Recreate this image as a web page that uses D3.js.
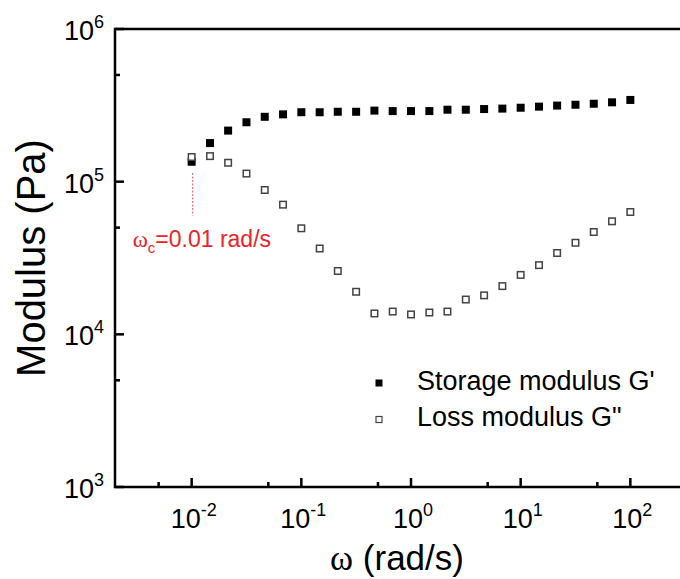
<!DOCTYPE html>
<html>
<head>
<meta charset="utf-8">
<script src="https://cdn.jsdelivr.net/npm/d3@7"></script>
<style>
    body { margin: 0; background: #fff; }
    svg { display: block; font-family: "Liberation Sans", Arial, sans-serif; }
    .axis_line { stroke: #000; stroke-width: 2.5; fill: none; }
    .tick { stroke: #000; stroke-width: 2.5; }
    .tick_label { font-size: 27px; fill: #000; }
    .title { font-size: 35px; fill: #000; }
    .legend_text { font-size: 27px; fill: #000; }
</style>
</head>
<body>
<svg id="graph" width="680" height="579"></svg>
<script>
// frequency sweep, 6 points per decade
let omega = [0.01, 0.0147, 0.0215, 0.0316, 0.0464, 0.0681,
             0.1, 0.147, 0.215, 0.316, 0.464, 0.681,
             1, 1.47, 2.15, 3.16, 4.64, 6.81,
             10, 14.7, 21.5, 31.6, 46.4, 68.1, 100];

let g_storage = [1.35e5, 1.79e5, 2.16e5, 2.45e5, 2.66e5, 2.76e5,
                 2.85e5, 2.85e5, 2.87e5, 2.87e5, 2.92e5, 2.90e5,
                 2.90e5, 2.90e5, 2.96e5, 2.96e5, 2.99e5, 3.01e5,
                 3.05e5, 3.10e5, 3.15e5, 3.19e5, 3.24e5, 3.31e5, 3.43e5];

let g_loss = [1.45e5, 1.47e5, 1.33e5, 1.13e5, 8.82e4, 7.07e4,
              4.95e4, 3.65e4, 2.60e4, 1.90e4, 1.37e4, 1.41e4,
              1.35e4, 1.39e4, 1.41e4, 1.69e4, 1.80e4, 2.07e4,
              2.45e4, 2.84e4, 3.41e4, 3.98e4, 4.68e4, 5.50e4, 6.33e4];

let x_major = [0.01, 0.1, 1, 10, 100];
let x_minor = [0.005, 0.05, 0.5, 5, 50];
let x_exp = ["-2", "-1", "0", "1", "2"];
let y_major = [1e3, 1e4, 1e5, 1e6];
let y_minor = [5e3, 5e4, 5e5];
let y_exp = ["3", "4", "5", "6"];

let omega_c = 0.01;
let omega_c_span = [1.14e5, 6.0e4];

let legend_labels = ["Storage modulus G'", "Loss modulus G\""];

let svg = d3.select("#graph");

let xScale = d3.scaleLog()
    .domain([0.002, 500])
    .range([115, 707]);

let yScale = d3.scaleLog()
    .domain([1e3, 1e6])
    .range([487, 29]);

let x0 = xScale.range()[0],
    y0 = yScale.range()[0],
    y1 = yScale.range()[1];

// frame: left, top, bottom (right edge is outside the picture)
svg.append("path")
    .attr("class", "axis_line")
    .attr("d", "M" + 690 + "," + y1 + "H" + x0 + "V" + y0 + "H" + 690);

svg.append("g")
    .selectAll("line")
    .data(x_major)
    .enter()
    .append("line")
    .attr("class", "tick")
    .attr("x1", d => xScale(d)).attr("x2", d => xScale(d))
    .attr("y1", y0).attr("y2", y0 - 9);

svg.append("g")
    .selectAll("line")
    .data(x_minor)
    .enter()
    .append("line")
    .attr("class", "tick")
    .attr("x1", d => xScale(d)).attr("x2", d => xScale(d))
    .attr("y1", y0).attr("y2", y0 - 5);

svg.append("g")
    .selectAll("line")
    .data(y_major)
    .enter()
    .append("line")
    .attr("class", "tick")
    .attr("x1", x0).attr("x2", x0 + 9)
    .attr("y1", d => yScale(d)).attr("y2", d => yScale(d));

svg.append("g")
    .selectAll("line")
    .data(y_minor)
    .enter()
    .append("line")
    .attr("class", "tick")
    .attr("x1", x0).attr("x2", x0 + 5)
    .attr("y1", d => yScale(d)).attr("y2", d => yScale(d));

function powerLabel(sel, exp) {
    sel.append("tspan").text("10");
    sel.append("tspan")
        .attr("dy", -12)
        .style("font-size", "18px")
        .text(exp);
}

svg.append("g")
    .selectAll("text")
    .data(x_major)
    .enter()
    .append("text")
    .attr("class", "tick_label")
    .attr("x", d => xScale(d) + 2)
    .attr("y", 528)
    .attr("text-anchor", "middle")
    .each(function(d, i) { powerLabel(d3.select(this), x_exp[i]); });

svg.append("g")
    .selectAll("text")
    .data(y_major)
    .enter()
    .append("text")
    .attr("class", "tick_label")
    .attr("x", 104)
    .attr("y", d => yScale(d) + 11)
    .attr("text-anchor", "end")
    .each(function(d, i) { powerLabel(d3.select(this), y_exp[i]); });

// axis titles
let xt = svg.append("text")
    .attr("class", "title")
    .attr("x", 397)
    .attr("y", 570)
    .attr("text-anchor", "middle");
xt.append("tspan").style("font-family", "'Liberation Serif', serif").text("ω");
xt.append("tspan").text(" (rad/s)");

svg.append("text")
    .attr("class", "title")
    .attr("transform", "translate(45,258) rotate(-90)")
    .attr("text-anchor", "middle")
    .style("font-size", "40px")
    .text("Modulus (Pa)");

// data
let sq = 8;
svg.append("g")
    .selectAll("rect")
    .data(omega)
    .enter()
    .append("rect")
    .attr("x", d => xScale(d) - sq / 2)
    .attr("y", (d, i) => yScale(g_storage[i]) - sq / 2)
    .attr("width", sq)
    .attr("height", sq)
    .attr("fill", "#000");

svg.append("g")
    .selectAll("rect")
    .data(omega)
    .enter()
    .append("rect")
    .attr("x", d => xScale(d) - sq / 2 + 0.75)
    .attr("y", (d, i) => yScale(g_loss[i]) - sq / 2 + 0.75)
    .attr("width", sq - 1.5)
    .attr("height", sq - 1.5)
    .attr("fill", "#fff")
    .attr("stroke", "#444")
    .attr("stroke-width", 1.5);

// crossover annotation
svg.append("line")
    .attr("x1", xScale(omega_c) + 1).attr("x2", xScale(omega_c) + 1)
    .attr("y1", yScale(omega_c_span[0]))
    .attr("y2", yScale(omega_c_span[1]))
    .attr("stroke", "#e8707a")
    .attr("stroke-width", 1.2)
    .attr("stroke-dasharray", "2,1.5");

let ann = svg.append("text")
    .attr("x", xScale(omega_c) - 59)
    .attr("y", yScale(omega_c_span[1]) + 31)
    .attr("fill", "#e8242a")
    .style("font-size", "23px");
ann.append("tspan").style("font-family", "'Liberation Serif', serif").text("ω");
ann.append("tspan").attr("dy", 6).style("font-size", "15px").text("c");
ann.append("tspan").attr("dy", -6).text("=0.01 rad/s");

// legend
let legend = svg.append("g")
    .attr("transform", "translate(379,383)");

legend.append("rect")
    .attr("x", -3.5).attr("y", -3.5)
    .attr("width", 7).attr("height", 7)
    .attr("fill", "#000");

legend.append("rect")
    .attr("x", -3).attr("y", 33.5)
    .attr("width", 6).attr("height", 6)
    .attr("fill", "#fff")
    .attr("stroke", "#444")
    .attr("stroke-width", 1.2);

legend.selectAll("text")
    .data(legend_labels)
    .enter()
    .append("text")
    .attr("class", "legend_text")
    .attr("x", 38)
    .attr("y", (d, i) => 7 + i * 36)
    .text(d => d);
</script>
</body>
</html>
